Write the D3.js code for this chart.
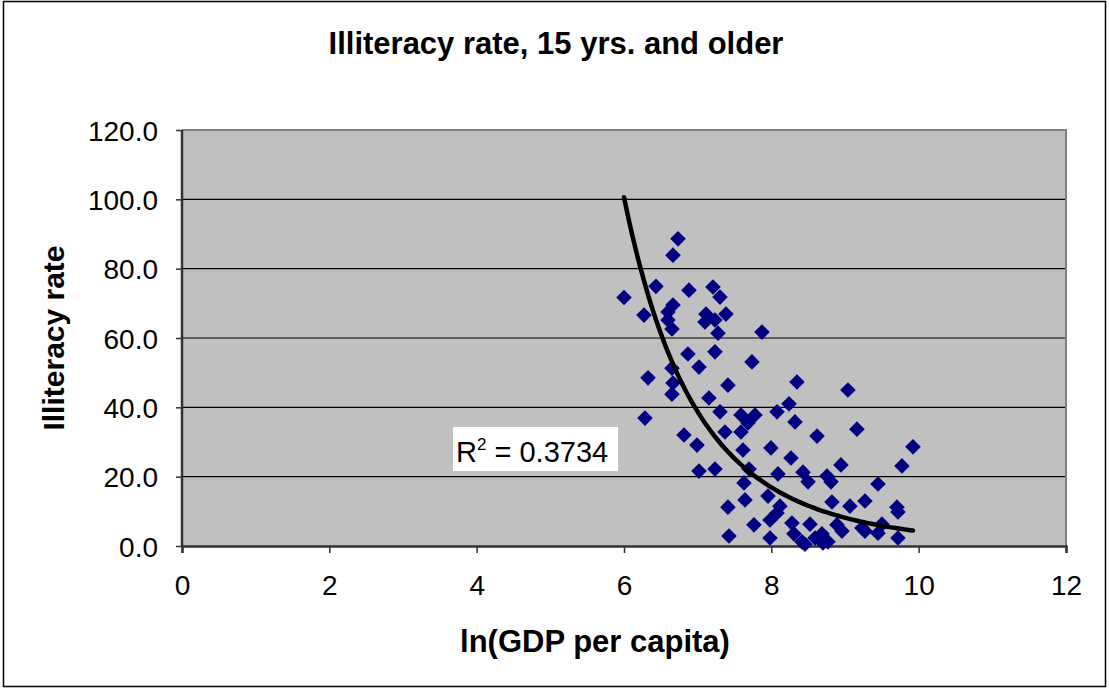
<!DOCTYPE html>
<html><head><meta charset="utf-8">
<script src="https://cdn.jsdelivr.net/npm/d3@7"></script>
<style>body{margin:0;background:#fff}svg{display:block}text{font-family:"Liberation Sans",Arial,sans-serif}</style>
</head><body>
<script>
const titleText = "Illiteracy rate, 15 yrs. and older";
const xTitle = "ln(GDP per capita)";
const yTitle = "Illiteracy rate";
const xTicks = [0, 2, 4, 6, 8, 10, 12];
const yTicks = [0, 20, 40, 60, 80, 100, 120];
const lnGDP = [6.733,6.665,6.434,6.000,6.882,7.208,7.303,6.271,6.665,6.597,6.597,7.113,7.099,7.235,7.384,6.651,7.276,7.873,6.868,7.235,7.737,7.018,6.651,6.326,6.665,7.411,6.651,7.153,7.303,6.285,7.588,7.778,7.683,7.588,7.371,6.814,6.991,7.615,7.018,7.235,7.697,7.629,7.642,7.411,7.764,7.425,8.077,8.240,8.321,7.995,8.267,8.090,8.430,8.498,7.955,8.117,8.077,7.982,8.280,7.982,8.307,8.348,9.040,8.620,9.162,9.923,8.945,9.773,8.755,8.810,9.448,9.271,9.067,8.823,9.705,9.719,8.525,8.891,8.959,8.687,9.230,9.271,9.502,9.448,9.719,8.416,8.593,8.701,8.769,8.457];
const illiteracy = [88.6,83.9,74.9,71.7,73.8,74.7,71.8,66.6,69.5,67.5,65.2,66.9,64.6,65.2,66.9,62.6,61.4,61.7,55.4,56.0,53.1,51.6,51.3,48.5,47.0,46.4,43.8,42.7,38.7,36.9,37.8,37.8,35.5,32.9,32.9,32.0,29.1,27.7,21.6,22.2,22.2,18.2,13.3,11.2,6.1,2.9,38.7,41.0,35.8,28.3,25.4,20.8,21.3,18.5,14.4,11.5,9.5,7.5,6.6,2.3,3.5,47.3,45.0,31.7,33.7,28.6,23.4,23.1,20.2,18.5,17.9,13.0,11.5,12.7,11.2,9.8,6.3,6.1,4.3,3.5,5.2,4.3,6.3,3.7,2.3,1.2,2.3,0.9,1.2,0.5];
// power trendline y = a * x^b
const trendA = 6.67e6, trendB = -6.196;
const r2Label = "0.3734";

const W = 1109, H = 689;
const svg = d3.select("body").append("svg").attr("width", W).attr("height", H);
svg.append("rect").attr("x", 3.5).attr("y", 1.5).attr("width", 1102).attr("height", 685)
  .attr("fill", "#fff").attr("stroke", "#000").attr("stroke-width", 1.5);

const L = 182, R = 1066, T = 130, B = 546;
const x = d3.scaleLinear().domain([0, 12]).range([L, R]);
const y = d3.scaleLinear().domain([0, 120]).range([B, T]);

svg.append("rect").attr("x", L).attr("y", T).attr("width", R - L).attr("height", B - T).attr("fill", "#c0c0c0");

svg.append("g").selectAll("line").data(yTicks.filter(d => d > 0)).join("line")
  .attr("x1", L).attr("x2", R).attr("y1", d => y(d)).attr("y2", d => y(d))
  .attr("stroke", "#000").attr("stroke-width", 1.2);
svg.append("path").attr("d", `M${L},${T}H${R}V${B}`).attr("fill", "none").attr("stroke", "#808080").attr("stroke-width", 2);

const yAxis = d3.axisLeft(y).tickValues(yTicks).tickSize(6).tickPadding(18).tickFormat(d3.format(".1f"));
const gy = svg.append("g").attr("transform", `translate(${L},0)`).call(yAxis);
const xAxis = d3.axisBottom(x).tickValues(xTicks).tickSize(7).tickPadding(22);
const gx = svg.append("g").attr("transform", `translate(0,${B})`).call(xAxis);
[gx, gy].forEach(g => {
  g.select(".domain").attr("stroke", "#333").attr("stroke-width", 2.5);
  g.selectAll(".tick line").attr("stroke", "#333").attr("stroke-width", 1.5);
  g.selectAll("text").attr("font-size", 28).attr("fill", "#000").attr("font-family", "Liberation Sans, Arial, sans-serif");
});
gy.select(".domain").attr("d", `M0,${B}V${T}`);
gy.selectAll(".tick text").attr("dy", "0.36em");

const pts = lnGDP.map((v, i) => ({ x: v, y: illiteracy[i] }));
svg.append("g").selectAll("path").data(pts).join("path")
  .attr("d", d3.symbol().type(d3.symbolSquare).size(2 * 7.8 * 7.8)())
  .attr("transform", d => `translate(${x(d.x)},${y(d.y)}) rotate(45)`)
  .attr("fill", "#000080");

const ext = d3.extent(lnGDP);
const tr = d3.range(0, 101).map(i => { const xv = ext[0] + (ext[1] - ext[0]) * i / 100; return [xv, trendA * Math.pow(xv, trendB)]; });
svg.append("path").datum(tr).attr("fill", "none").attr("stroke", "#000").attr("stroke-width", 4.5)
  .attr("stroke-linecap", "round")
  .attr("d", d3.line().x(d => x(d[0])).y(d => y(d[1])));

svg.append("rect").attr("x", 453).attr("y", 427).attr("width", 165).attr("height", 44).attr("fill", "#fff");
const rt = svg.append("text").attr("x", 456).attr("y", 462).attr("font-size", 29).attr("fill", "#000");
rt.append("tspan").text("R");
rt.append("tspan").attr("font-size", 17).attr("dy", -12).text("2");
rt.append("tspan").attr("dy", 12).text(" = " + r2Label);

svg.append("text").attr("x", 556).attr("y", 54).attr("text-anchor", "middle").attr("font-size", 31).attr("font-weight", "bold").text(titleText);
svg.append("text").attr("x", 595).attr("y", 652).attr("text-anchor", "middle").attr("font-size", 31).attr("font-weight", "bold").text(xTitle);
svg.append("text").attr("transform", `translate(64,${(T + B) / 2}) rotate(-90)`).attr("text-anchor", "middle").attr("font-size", 30).attr("font-weight", "bold").text(yTitle);
</script>
</body></html>
